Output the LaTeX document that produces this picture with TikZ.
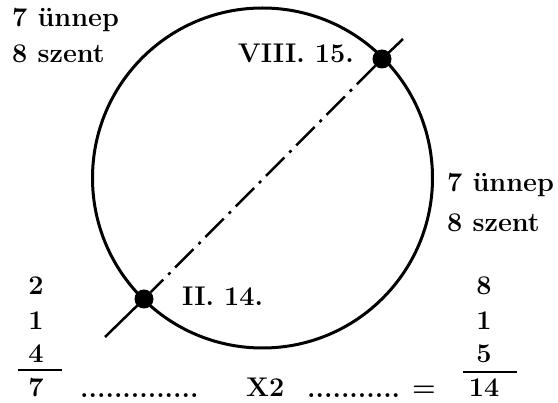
\documentclass[tikz,border=0pt]{standalone}
\usepackage{fontspec}
\begin{document}
\begin{tikzpicture}[x=1pt,y=-1pt,
	every node/.style={font=\fontsize{27}{30}\selectfont\bfseries, inner sep=0pt},
	txt/.style={anchor=base west},
	numcol/.style={anchor=base},
	datedot/.style={circle, fill=black, minimum size=19pt}]
	\useasboundingbox (0,0) rectangle (558,403);
	\coordinate (c) at (262.5,178);
	\draw[line width=3pt] (c) circle[radius=170];
	% the two dates on the circle
	\node[datedot] (viii) at (382,59) {};
	\node[datedot] (ii) at (144,299) {};
	\coordinate (topend) at (403,39);
	\coordinate (botend) at (105,337);
	\draw[line width=2.5pt] (topend) -- (viii.center);
	\draw[line width=2.5pt] (ii.center) -- (botend);
	\draw[line width=2.5pt, dash pattern=on 26pt off 7pt on 3pt off 7pt] (viii) -- (ii);
	\node[anchor=base east] (viiilab) at (354,63) {VIII. 15.};
	\node[txt] (iilab) at (182,306) {II. 14.};
	% holidays and saints
	\node[txt] (lefthol) at (12,27) {7 ünnep};
	\node[txt] (leftsz) at (12,63) {8 szent};
	\node[txt] (righthol) at (447,192) {7 ünnep};
	\node[txt] (rightsz) at (447,232) {8 szent};
	% sums
	\foreach \v/\y in {2/295, 1/330, 4/363} {
		\node[numcol] (l\v) at (36,\y) {\v};
	}
	\foreach \v/\y in {8/295, 1/330, 5/363} {
		\node[numcol] (r\v) at (484,\y) {\v};
	}
	\draw[line width=2pt] (18,370) -- (62,370);
	\draw[line width=2pt] (463,372) -- (517,372);
	\node[numcol] (ltot) at (36,397) {7};
	\node[numcol] (rtot) at (484,397) {14};
	\node[txt] (ldots) at (80,398) {..............};
	\node[txt] (times) at (246,397) {X2};
	\node[txt] (rdots) at (307,398) {...........};
	\node[numcol] (eq) at (424,397) {=};
\end{tikzpicture}
\end{document}
